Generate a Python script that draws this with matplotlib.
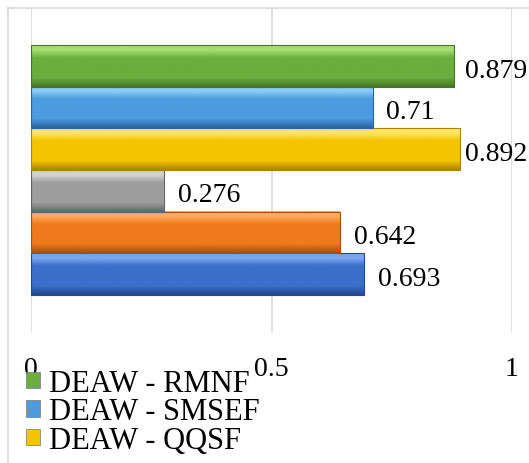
import matplotlib
matplotlib.use('Agg')
import matplotlib.pyplot as plt
import numpy as np
from matplotlib.colors import to_rgb
from matplotlib.patches import Patch
from matplotlib.lines import Line2D

plt.rcParams['font.family'] = ['Liberation Serif', 'DejaVu Serif']
plt.rcParams['font.size'] = 20

# Bars listed bottom to top
bar_values = [0.693, 0.642, 0.276, 0.892, 0.71, 0.879]
bar_colors = ['#3A6FCB', '#F07A1E', '#9D9D9D', '#F5C400', '#4A9BDF', '#6AAE3E']
bar_lights = ['#7AA6EE', '#FFAA60', '#D2D2D2', '#FFE660', '#8ACCF8', '#A3DE70']
bar_darks = ['#22498F', '#AA500C', '#666666', '#AE8500', '#2A64A0', '#467526']

legend_names = ['DEAW - RMNF', 'DEAW - SMSEF', 'DEAW - QQSF']
legend_colors = ['#6AAE3E', '#4A9BDF', '#F5C400']

x_ticks = [0, 0.5, 1]
x_tick_labels = ['0', '0.5', '1']

W, H = 529, 464
fig = plt.figure(figsize=(W / 100, H / 100), dpi=100)
ax = fig.add_axes([31 / W, 131 / H, 481 / W, 324 / H])


def bevel_gradient(base, light, dark, n=60):
    # vertical shading, top row first: highlight, body, darker lower edge
    stops = [0.0, 0.12, 0.3, 0.78, 1.0]
    cols = [to_rgb(light), to_rgb(light), to_rgb(base), to_rgb(base), to_rgb(dark)]
    t = np.linspace(0, 1, n)
    rgb = np.stack([np.interp(t, stops, [c[i] for c in cols]) for i in range(3)], axis=1)
    return rgb[:, None, :]


positions = list(range(len(bar_values)))
bar_h = 1.0
bars = ax.barh(positions, bar_values, height=bar_h, color='none',
               edgecolor=bar_darks, linewidth=0.8, zorder=4)
for bar, base, light, dark in zip(bars, bar_colors, bar_lights, bar_darks):
    x0, y0 = bar.get_x(), bar.get_y()
    ax.imshow(bevel_gradient(base, light, dark), aspect='auto', zorder=3,
              extent=(x0, x0 + bar.get_width(), y0, y0 + bar.get_height()),
              interpolation='bilinear')

ax.set_xlim(0, 1)
ax.set_ylim(-1.388, 6.388)
ax.set_yticks([])
ax.set_xticks(x_ticks)
ax.set_xticklabels(x_tick_labels)
ax.tick_params(axis='x', length=0, pad=17)
ax.grid(axis='x', color='#D9D9D9', linewidth=1.2, zorder=0)
for side in ['top', 'right', 'bottom', 'left']:
    ax.spines[side].set_visible(False)

# value labels, pulled back inside the figure if they run off the right edge
labels = []
for p, v in zip(positions, bar_values):
    t = ax.annotate(f'{v:g}', xy=(v, p), xytext=(10, -3), textcoords='offset points',
                    ha='left', va='center', fontsize=20, zorder=5)
    labels.append(t)

fig.canvas.draw()
renderer = fig.canvas.get_renderer()
for t in labels:
    bb = t.get_window_extent(renderer)
    if bb.x1 > W - 2:
        shift = (bb.x1 - (W - 2)) * 72 / 100
        ox, oy = t.xyann
        t.xyann = (ox - shift, oy)

# chart border (top and left edges visible)
fig.add_artist(Line2D([8 / W, 8 / W], [0, 1 - 9 / H], color='#D9D9D9', linewidth=1.2,
                      transform=fig.transFigure))
fig.add_artist(Line2D([8 / W, 1], [1 - 9 / H, 1 - 9 / H], color='#D9D9D9', linewidth=1.2,
                      transform=fig.transFigure))

handles = [Patch(facecolor=c, edgecolor='#777777', linewidth=0.5) for c in legend_colors]
fig.legend(handles, legend_names, loc='upper left',
           bbox_to_anchor=(26 / W, 1 - 370 / H), frameon=False,
           fontsize=22, handlelength=0.45, handleheight=0.45,
           handletextpad=0.3, labelspacing=-0.02, borderpad=0, borderaxespad=0)

fig.savefig('out.png', dpi=100, facecolor='white')
